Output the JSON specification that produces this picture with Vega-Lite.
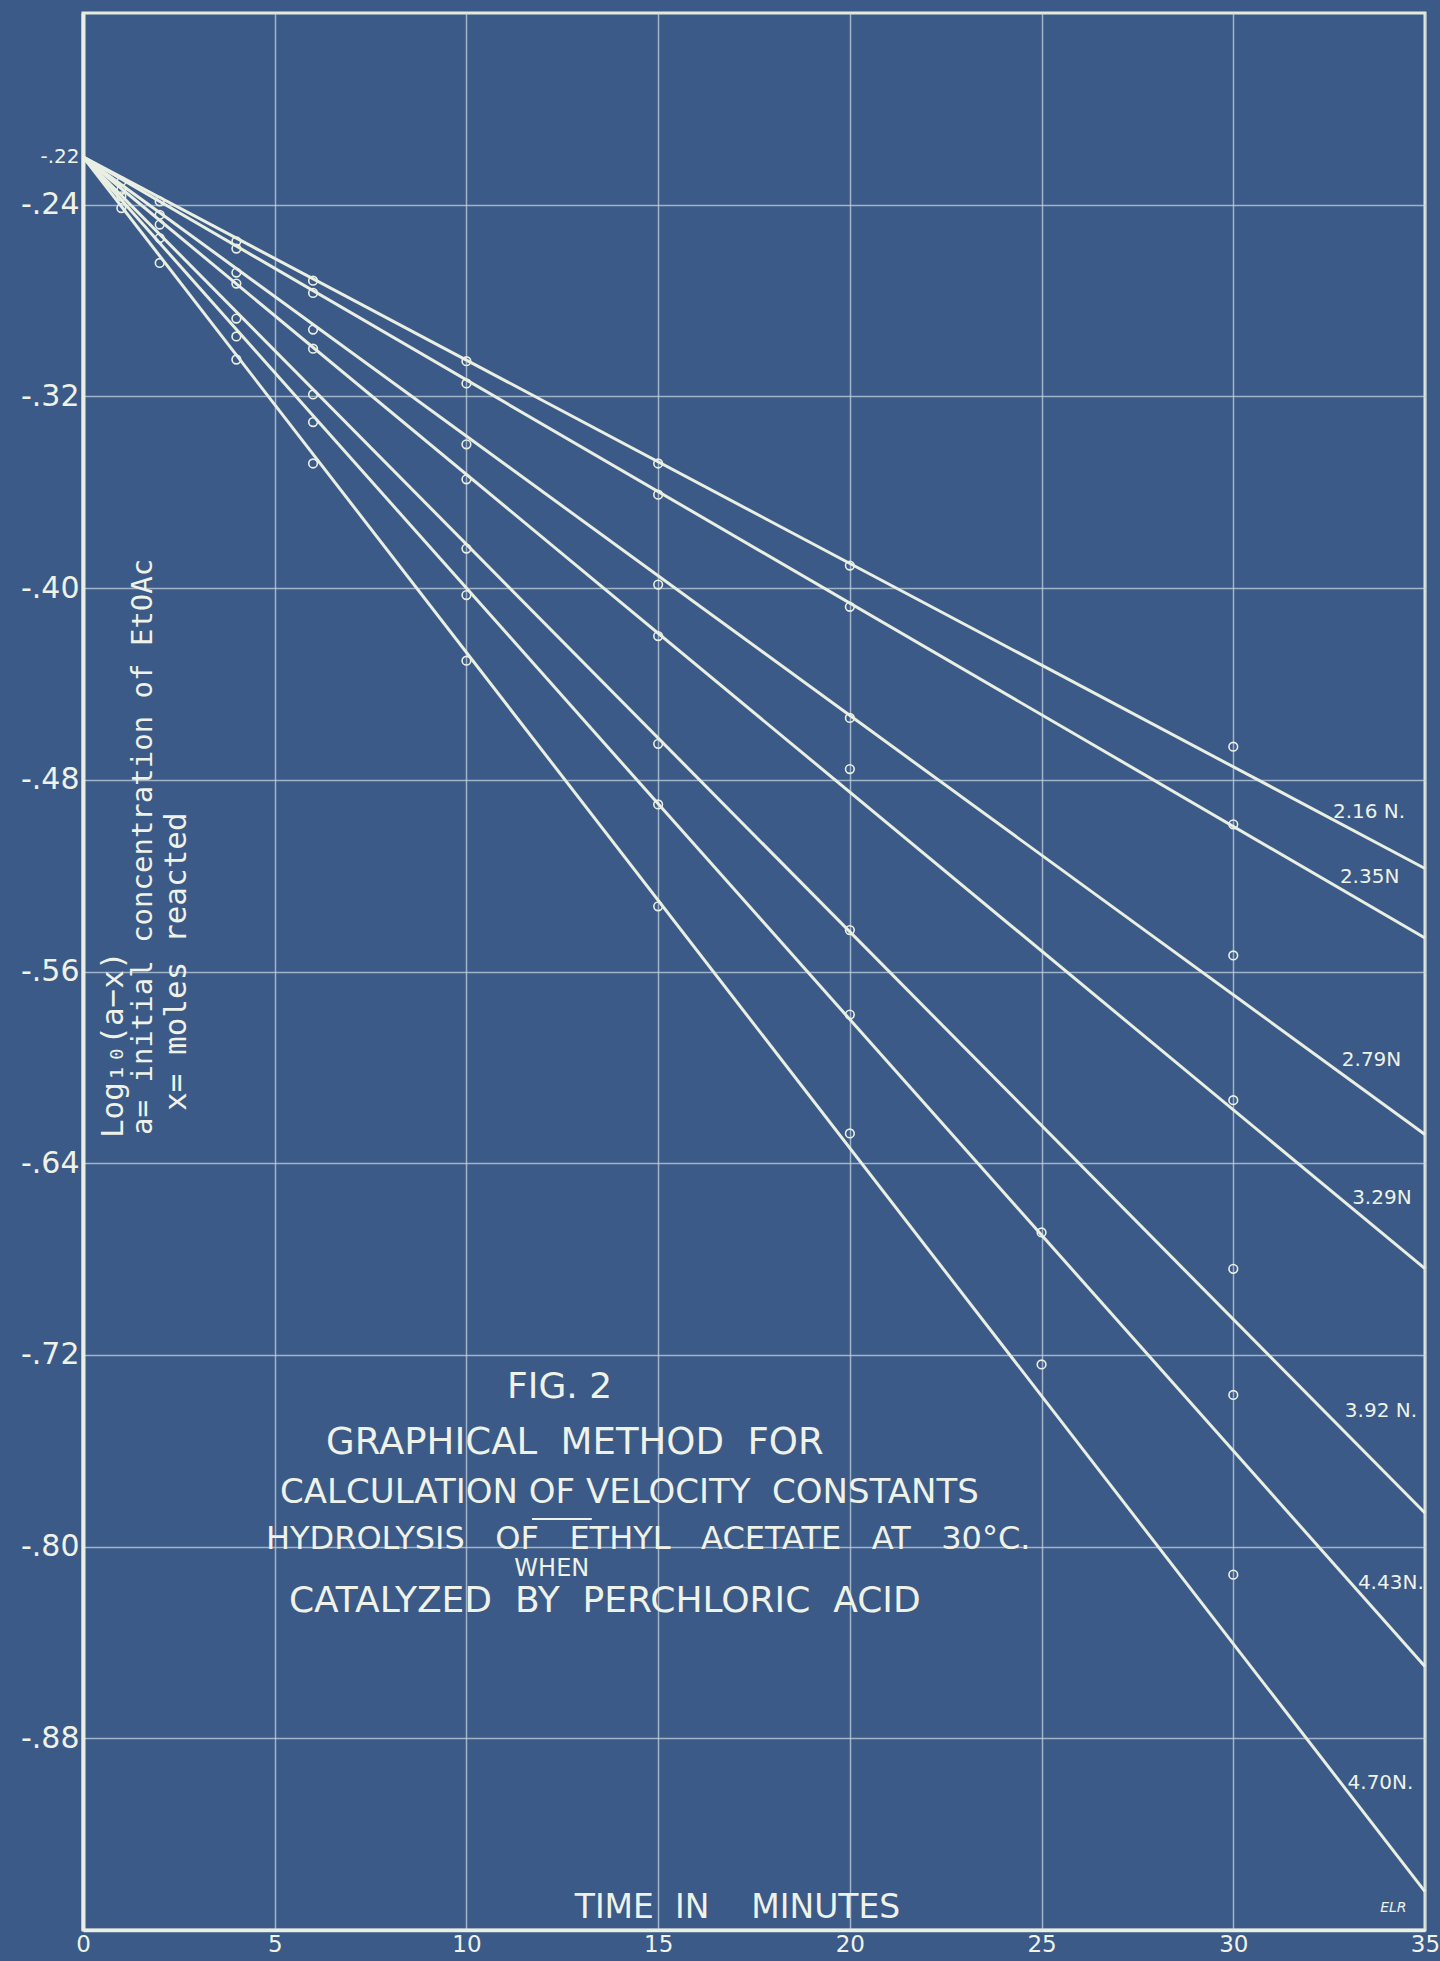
{
  "$schema": "https://vega.github.io/schema/vega-lite/v6.json",
  "width": 1342,
  "height": 1917,
  "autosize": {"type": "none"},
  "padding": {"left": 83, "top": 13, "right": 15, "bottom": 31},
  "background": "#3b5a87",
  "config": {
    "view": {"stroke": "#e4ebdd", "strokeWidth": 3, "fill": "#3b5a87"},
    "font": "DejaVu Sans",
    "text": {"color": "#eef2e8", "font": "DejaVu Sans"}
  },
  "datasets": {
    "lines": [
      {"series": "2.16N", "time": 0, "value": -0.22}, {"series": "2.16N", "time": 35, "value": -0.517},
      {"series": "2.35N", "time": 0, "value": -0.22}, {"series": "2.35N", "time": 35, "value": -0.546},
      {"series": "2.79N", "time": 0, "value": -0.22}, {"series": "2.79N", "time": 35, "value": -0.628},
      {"series": "3.29N", "time": 0, "value": -0.22}, {"series": "3.29N", "time": 35, "value": -0.684},
      {"series": "3.92N", "time": 0, "value": -0.22}, {"series": "3.92N", "time": 35, "value": -0.786},
      {"series": "4.43N", "time": 0, "value": -0.22}, {"series": "4.43N", "time": 35, "value": -0.850},
      {"series": "4.70N", "time": 0, "value": -0.22}, {"series": "4.70N", "time": 35, "value": -0.944}
    ],
    "points": [
      {"series": "2.35N", "time": 1, "value": -0.2303},
      {"series": "3.29N", "time": 1, "value": -0.2338},
      {"series": "3.92N", "time": 1, "value": -0.2365},
      {"series": "4.70N", "time": 1, "value": -0.2414},
      {"series": "2.16N", "time": 2, "value": -0.2386},
      {"series": "2.79N", "time": 2, "value": -0.2442},
      {"series": "3.29N", "time": 2, "value": -0.2483},
      {"series": "3.92N", "time": 2, "value": -0.2539},
      {"series": "4.70N", "time": 2, "value": -0.2643},
      {"series": "2.16N", "time": 4, "value": -0.2553},
      {"series": "2.35N", "time": 4, "value": -0.2583},
      {"series": "2.79N", "time": 4, "value": -0.2683},
      {"series": "3.29N", "time": 4, "value": -0.2729},
      {"series": "3.92N", "time": 4, "value": -0.2875},
      {"series": "4.43N", "time": 4, "value": -0.295},
      {"series": "4.70N", "time": 4, "value": -0.3046},
      {"series": "2.16N", "time": 6, "value": -0.2717},
      {"series": "2.35N", "time": 6, "value": -0.2768},
      {"series": "2.79N", "time": 6, "value": -0.2921},
      {"series": "3.29N", "time": 6, "value": -0.3001},
      {"series": "3.92N", "time": 6, "value": -0.3192},
      {"series": "4.43N", "time": 6, "value": -0.3307},
      {"series": "4.70N", "time": 6, "value": -0.348},
      {"series": "2.16N", "time": 10, "value": -0.3053},
      {"series": "2.35N", "time": 10, "value": -0.3146},
      {"series": "2.79N", "time": 10, "value": -0.34},
      {"series": "3.29N", "time": 10, "value": -0.3546},
      {"series": "3.92N", "time": 10, "value": -0.3835},
      {"series": "4.43N", "time": 10, "value": -0.4029},
      {"series": "4.70N", "time": 10, "value": -0.4303},
      {"series": "2.16N", "time": 15, "value": -0.348},
      {"series": "2.35N", "time": 15, "value": -0.361},
      {"series": "2.79N", "time": 15, "value": -0.3985},
      {"series": "3.29N", "time": 15, "value": -0.42},
      {"series": "3.92N", "time": 15, "value": -0.465},
      {"series": "4.43N", "time": 15, "value": -0.4903},
      {"series": "4.70N", "time": 15, "value": -0.5328},
      {"series": "2.16N", "time": 20, "value": -0.3906},
      {"series": "2.35N", "time": 20, "value": -0.4078},
      {"series": "2.79N", "time": 20, "value": -0.4542},
      {"series": "3.29N", "time": 20, "value": -0.4755},
      {"series": "3.92N", "time": 20, "value": -0.5427},
      {"series": "4.43N", "time": 20, "value": -0.578},
      {"series": "4.70N", "time": 20, "value": -0.6276},
      {"series": "4.43N", "time": 25, "value": -0.6689},
      {"series": "4.70N", "time": 25, "value": -0.724},
      {"series": "2.16N", "time": 30, "value": -0.4662},
      {"series": "2.35N", "time": 30, "value": -0.4986},
      {"series": "2.79N", "time": 30, "value": -0.5533},
      {"series": "3.29N", "time": 30, "value": -0.6137},
      {"series": "3.92N", "time": 30, "value": -0.6841},
      {"series": "4.43N", "time": 30, "value": -0.7367},
      {"series": "4.70N", "time": 30, "value": -0.8117}
    ]
  },
  "layer": [
    {
      "data": {"name": "lines"},
      "mark": {"type": "line", "color": "#e9efe2", "strokeWidth": 3},
      "encoding": {
        "x": {
          "field": "time", "type": "quantitative",
          "scale": {"domain": [0, 35], "nice": false, "zero": false},
          "axis": {
            "title": null,
            "values": [0, 5, 10, 15, 20, 25, 30, 35],
            "grid": true, "gridColor": "#c3d2df", "gridOpacity": 0.75, "gridWidth": 1.5,
            "ticks": false,
            "domainColor": "#e9efe2", "domainWidth": 3.5,
            "labelColor": "#eef2e8", "labelFontSize": 23, "labelPadding": 3,
            "labelFlush": false, "labelOverlap": false
          }
        },
        "y": {
          "field": "value", "type": "quantitative",
          "scale": {"domain": [-0.96, -0.16], "nice": false, "zero": false},
          "axis": {
            "title": null,
            "values": [-0.22, -0.24, -0.32, -0.40, -0.48, -0.56, -0.64, -0.72, -0.80, -0.88],
            "labelExpr": "'-' + replace(format(abs(datum.value), '.2f'), '0.', '.')",
            "grid": true, "gridColor": "#c3d2df", "gridWidth": 1.5,
            "gridOpacity": {"condition": {"test": "datum.value > -0.23", "value": 0}, "value": 0.75},
            "ticks": false,
            "domainColor": "#e9efe2", "domainWidth": 4,
            "labelColor": "#eef2e8",
            "labelFontSize": {"condition": {"test": "datum.value > -0.23", "value": 20}, "value": 30},
            "labelPadding": 4,
            "labelFlush": false, "labelOverlap": false
          }
        },
        "detail": {"field": "series"}
      }
    },
    {
      "data": {"name": "points"},
      "mark": {"type": "point", "shape": "circle", "filled": false, "size": 75, "stroke": "#e9efe2", "strokeWidth": 1.6, "opacity": 1},
      "encoding": {
        "x": {"field": "time", "type": "quantitative"},
        "y": {"field": "value", "type": "quantitative"}
      }
    },
    {"data": {"values": [{}]}, "mark": {"type": "text", "text": "2.16 N.", "align": "left", "baseline": "middle", "fontSize": 20}, "encoding": {"x": {"datum": 32.6, "type": "quantitative"}, "y": {"datum": -0.4934, "type": "quantitative"}}},
    {"data": {"values": [{}]}, "mark": {"type": "text", "text": "2.35N", "align": "left", "baseline": "middle", "fontSize": 20}, "encoding": {"x": {"datum": 32.78, "type": "quantitative"}, "y": {"datum": -0.5206, "type": "quantitative"}}},
    {"data": {"values": [{}]}, "mark": {"type": "text", "text": "2.79N", "align": "left", "baseline": "middle", "fontSize": 20}, "encoding": {"x": {"datum": 32.83, "type": "quantitative"}, "y": {"datum": -0.5969, "type": "quantitative"}}},
    {"data": {"values": [{}]}, "mark": {"type": "text", "text": "3.29N", "align": "left", "baseline": "middle", "fontSize": 20}, "encoding": {"x": {"datum": 33.1, "type": "quantitative"}, "y": {"datum": -0.6545, "type": "quantitative"}}},
    {"data": {"values": [{}]}, "mark": {"type": "text", "text": "3.92 N.", "align": "left", "baseline": "middle", "fontSize": 20}, "encoding": {"x": {"datum": 32.91, "type": "quantitative"}, "y": {"datum": -0.7434, "type": "quantitative"}}},
    {"data": {"values": [{}]}, "mark": {"type": "text", "text": "4.43N.", "align": "left", "baseline": "middle", "fontSize": 20}, "encoding": {"x": {"datum": 33.25, "type": "quantitative"}, "y": {"datum": -0.8152, "type": "quantitative"}}},
    {"data": {"values": [{}]}, "mark": {"type": "text", "text": "4.70N.", "align": "left", "baseline": "middle", "fontSize": 20}, "encoding": {"x": {"datum": 32.98, "type": "quantitative"}, "y": {"datum": -0.8987, "type": "quantitative"}}},
    {"data": {"values": [{}]}, "mark": {"type": "text", "text": "ELR", "align": "left", "baseline": "middle", "fontSize": 14, "fontStyle": "italic"}, "encoding": {"x": {"datum": 33.83, "type": "quantitative"}, "y": {"datum": -0.9508, "type": "quantitative"}}},
    {"data": {"values": [{}]}, "mark": {"type": "text", "text": "TIME\u00a0 IN\u00a0\u00a0\u00a0 MINUTES", "align": "center", "baseline": "middle", "fontSize": 33}, "encoding": {"x": {"datum": 17.07, "type": "quantitative"}, "y": {"datum": -0.951, "type": "quantitative"}}},
    {"data": {"values": [{}]}, "mark": {"type": "text", "text": "Log₁₀(a−x)", "align": "left", "baseline": "middle", "angle": 270, "fontSize": 31, "font": "DejaVu Sans Mono"}, "encoding": {"x": {"datum": 0.82, "type": "quantitative"}, "y": {"datum": -0.6295, "type": "quantitative"}}},
    {"data": {"values": [{}]}, "mark": {"type": "text", "text": "a= initial concentration of EtOAc", "align": "left", "baseline": "middle", "angle": 270, "fontSize": 29, "font": "DejaVu Sans Mono"}, "encoding": {"x": {"datum": 1.565, "type": "quantitative"}, "y": {"datum": -0.6282, "type": "quantitative"}}},
    {"data": {"values": [{}]}, "mark": {"type": "text", "text": "x= moles reacted", "align": "left", "baseline": "middle", "angle": 270, "fontSize": 31, "font": "DejaVu Sans Mono"}, "encoding": {"x": {"datum": 2.45, "type": "quantitative"}, "y": {"datum": -0.6182, "type": "quantitative"}}},
    {"data": {"values": [{}]}, "mark": {"type": "text", "text": "FIG. 2", "align": "left", "baseline": "middle", "fontSize": 36}, "encoding": {"x": {"datum": 11.06, "type": "quantitative"}, "y": {"datum": -0.7336, "type": "quantitative"}}},
    {"data": {"values": [{}]}, "mark": {"type": "text", "text": "GRAPHICAL\u00a0 METHOD\u00a0 FOR", "align": "left", "baseline": "middle", "fontSize": 37}, "encoding": {"x": {"datum": 6.34, "type": "quantitative"}, "y": {"datum": -0.7568, "type": "quantitative"}}},
    {"data": {"values": [{}]}, "mark": {"type": "text", "text": "CALCULATION OF VELOCITY\u00a0 CONSTANTS", "align": "left", "baseline": "middle", "fontSize": 34}, "encoding": {"x": {"datum": 5.14, "type": "quantitative"}, "y": {"datum": -0.7777, "type": "quantitative"}}},
    {"data": {"values": [{}]}, "mark": {"type": "rule", "color": "#eef2e8", "strokeWidth": 2}, "encoding": {"x": {"datum": 11.71, "type": "quantitative"}, "x2": {"datum": 13.27}, "y": {"datum": -0.7885, "type": "quantitative"}}},
    {"data": {"values": [{}]}, "mark": {"type": "text", "text": "HYDROLYSIS\u00a0\u00a0 OF\u00a0\u00a0 ETHYL\u00a0\u00a0 ACETATE\u00a0\u00a0 AT\u00a0\u00a0 30°C.", "align": "left", "baseline": "middle", "fontSize": 32}, "encoding": {"x": {"datum": 4.77, "type": "quantitative"}, "y": {"datum": -0.7968, "type": "quantitative"}}},
    {"data": {"values": [{}]}, "mark": {"type": "text", "text": "WHEN", "align": "left", "baseline": "middle", "fontSize": 24}, "encoding": {"x": {"datum": 11.25, "type": "quantitative"}, "y": {"datum": -0.8093, "type": "quantitative"}}},
    {"data": {"values": [{}]}, "mark": {"type": "text", "text": "CATALYZED\u00a0 BY\u00a0 PERCHLORIC\u00a0 ACID", "align": "left", "baseline": "middle", "fontSize": 36}, "encoding": {"x": {"datum": 5.37, "type": "quantitative"}, "y": {"datum": -0.8225, "type": "quantitative"}}}
  ]
}
